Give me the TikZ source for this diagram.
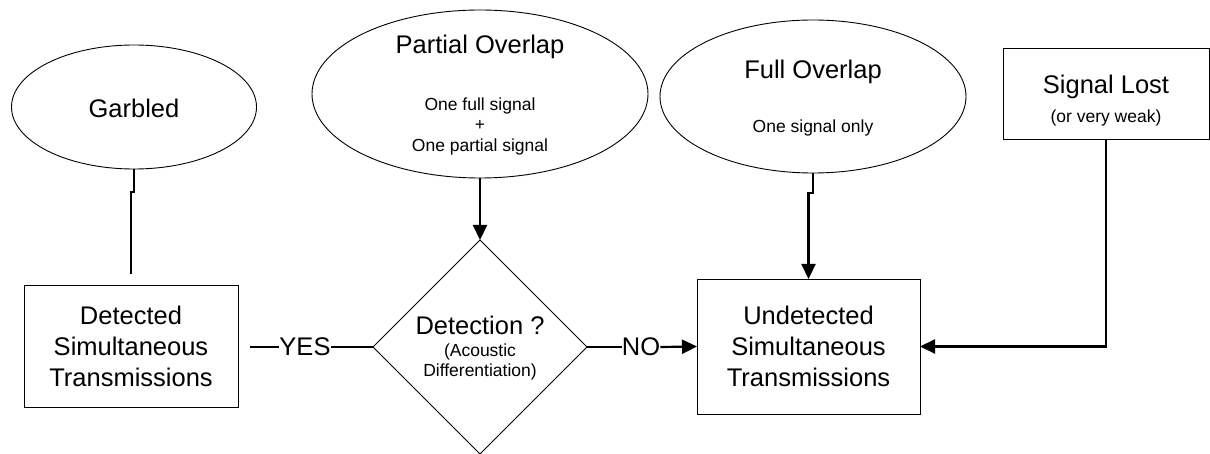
\documentclass[tikz,border=0pt]{standalone}
\usepackage{fontspec}
\setmainfont{Liberation Sans}
\usetikzlibrary{arrows.meta,shapes.geometric,calc}

\begin{document}
\begin{tikzpicture}[
      x=1pt,
      y=-1pt,
      >={Triangle[length=15pt,width=14pt]},
      bigtext/.style={font=\fontsize{25.5}{31}\selectfont,align=center,inner sep=0pt},
      smalltext/.style={font=\fontsize{17.5}{20.5}\selectfont,align=center,inner sep=0pt},
      oval/.style={draw,ellipse,line width=0.9pt,inner sep=0pt,outer sep=0pt},
      box/.style={draw,rectangle,line width=0.9pt,inner sep=0pt,outer sep=0pt},
      conn/.style={line width=2.2pt}
    ]
      \useasboundingbox (0,0) rectangle (1210,454);
      \node[oval,minimum width=245pt,minimum height=124pt] (garbled) at (134,107) {};
      \node[oval,minimum width=336pt,minimum height=168pt] (partial) at (480,94) {};
      \node[oval,minimum width=306pt,minimum height=153pt] (full) at (813,96.5) {};
      \node[box,minimum width=206pt,minimum height=91pt] (lost) at (1106,93.5) {};
      \node[bigtext] (garbledT) at (134,108) {Garbled};
      \node[bigtext] (partialT) at (480,47) {Partial Overlap};
      \node[smalltext] (partialS) at (480,126) {One full signal\\+\\One partial signal};
      \node[bigtext] (fullT) at (813,72) {Full Overlap};
      \node[smalltext] (fullS) at (813,128) {One signal only};
      \node[bigtext] (lostT) at (1106,87) {Signal Lost};
      \node[smalltext] (lostS) at (1106,118) {(or very weak)};
      \node[box,bigtext,draw,line width=0.9pt,minimum width=214pt,minimum height=122pt] (det) at (131,346) {Detected\\Simultaneous\\Transmissions};
      \node[box,bigtext,draw,line width=0.9pt,minimum width=223pt,minimum height=135pt] (undet) at (808.5,346.5) {Undetected\\Simultaneous\\Transmissions};
      \node[draw,diamond,line width=0.9pt,minimum width=214pt,minimum height=214pt,inner sep=0pt,outer sep=0pt] (detect) at (480,347) {};
      \node[bigtext] (detectT) at (480,325) {Detection ?};
      \node[smalltext] (detectS) at (480,362) {(Acoustic\\Differentiation)};
      \node[bigtext] (yes) at (305,347) {YES};
      \node[bigtext] (no) at (641,347) {NO};
      \coordinate (garbledEnd) at (131,274);
      \coordinate (yesStart) at (250,347);
      \draw[conn] (garbled.south) -- ++(0,23) -| (garbledEnd);
      \draw[conn,->] (partial.south) -- (detect.north);
      \draw[conn,->] (full.south) -- ++(0,20) -| (undet.north);
      \draw[conn,->] (lost.south) |- (undet.east);
      \draw[conn] (yesStart) -- (yes.west);
      \draw[conn] (yes.east) -- (detect.west);
      \draw[conn] (detect.east) -- (no.west);
      \draw[conn,->] (no.east) -- (undet.west);
    \end{tikzpicture}
\end{document}
